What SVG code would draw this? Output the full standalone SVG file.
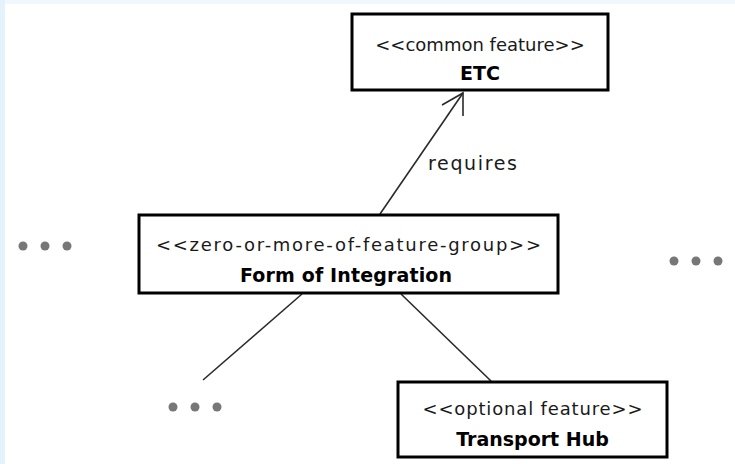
<svg xmlns="http://www.w3.org/2000/svg" width="735" height="464" viewBox="0 0 735 464">
  <style>
    .box { fill: #ffffff; stroke: #000000; stroke-width: 3; }
    .st { font-family: "DejaVu Sans", Verdana, sans-serif; font-size: 18px; fill: #1a1a1a; text-anchor: middle; }
    .nm { font-family: "DejaVu Sans", Verdana, sans-serif; font-size: 19px; font-weight: bold; fill: #000000; text-anchor: middle; }
    .lbl { font-family: "DejaVu Sans", Verdana, sans-serif; font-size: 19px; fill: #1a1a1a; }
    .conn { stroke: #2a2a2a; stroke-width: 1.6; fill: none; }
    .dot { fill: #777777; }
  </style>

  <!-- canvas -->
  <rect x="0" y="0" width="735" height="464" fill="#ffffff"/>
  <rect x="0" y="0" width="735" height="4" fill="#f0f8fe"/>
  <rect x="0" y="0" width="5" height="464" fill="#e4f2fc"/>

  <!-- connectors -->
  <g id="connectors">
    <line class="conn" x1="380" y1="214" x2="463" y2="93"/>
    <polyline class="conn" points="442,105 463,93 463,116"/>
    <text class="lbl" x="428" y="170" textLength="89" lengthAdjust="spacing">requires</text>
    <line class="conn" x1="302" y1="294" x2="203" y2="380"/>
    <line class="conn" x1="401" y1="294" x2="491" y2="381"/>
  </g>

  <g id="etc">
    <rect class="box" x="352" y="14" width="256" height="76"/>
    <text class="st" x="480" y="51">&lt;&lt;common feature&gt;&gt;</text>
    <text class="nm" x="480" y="80">ETC</text>
  </g>

  <g id="form-of-integration">
    <rect class="box" x="139" y="215" width="419" height="78"/>
    <text class="st" x="348.5" y="251" textLength="385" lengthAdjust="spacing">&lt;&lt;zero-or-more-of-feature-group&gt;&gt;</text>
    <text class="nm" x="346" y="282" textLength="212" lengthAdjust="spacing">Form of Integration</text>
  </g>

  <g id="transport-hub">
    <rect class="box" x="398" y="382" width="269" height="75"/>
    <text class="st" x="532.5" y="415" textLength="220" lengthAdjust="spacing">&lt;&lt;optional feature&gt;&gt;</text>
    <text class="nm" x="532.5" y="446">Transport Hub</text>
  </g>

  <!-- continuation marks -->
  <g id="more-left">
    <circle class="dot" cx="23" cy="246" r="4.5"/>
    <circle class="dot" cx="45" cy="246" r="4.5"/>
    <circle class="dot" cx="67" cy="246" r="4.5"/>
  </g>
  <g id="more-right">
    <circle class="dot" cx="674" cy="261" r="4.5"/>
    <circle class="dot" cx="696" cy="261" r="4.5"/>
    <circle class="dot" cx="718" cy="261" r="4.5"/>
  </g>
  <g id="more-bottom">
    <circle class="dot" cx="173" cy="407" r="4.5"/>
    <circle class="dot" cx="195" cy="407" r="4.5"/>
    <circle class="dot" cx="217" cy="407" r="4.5"/>
  </g>
</svg>
